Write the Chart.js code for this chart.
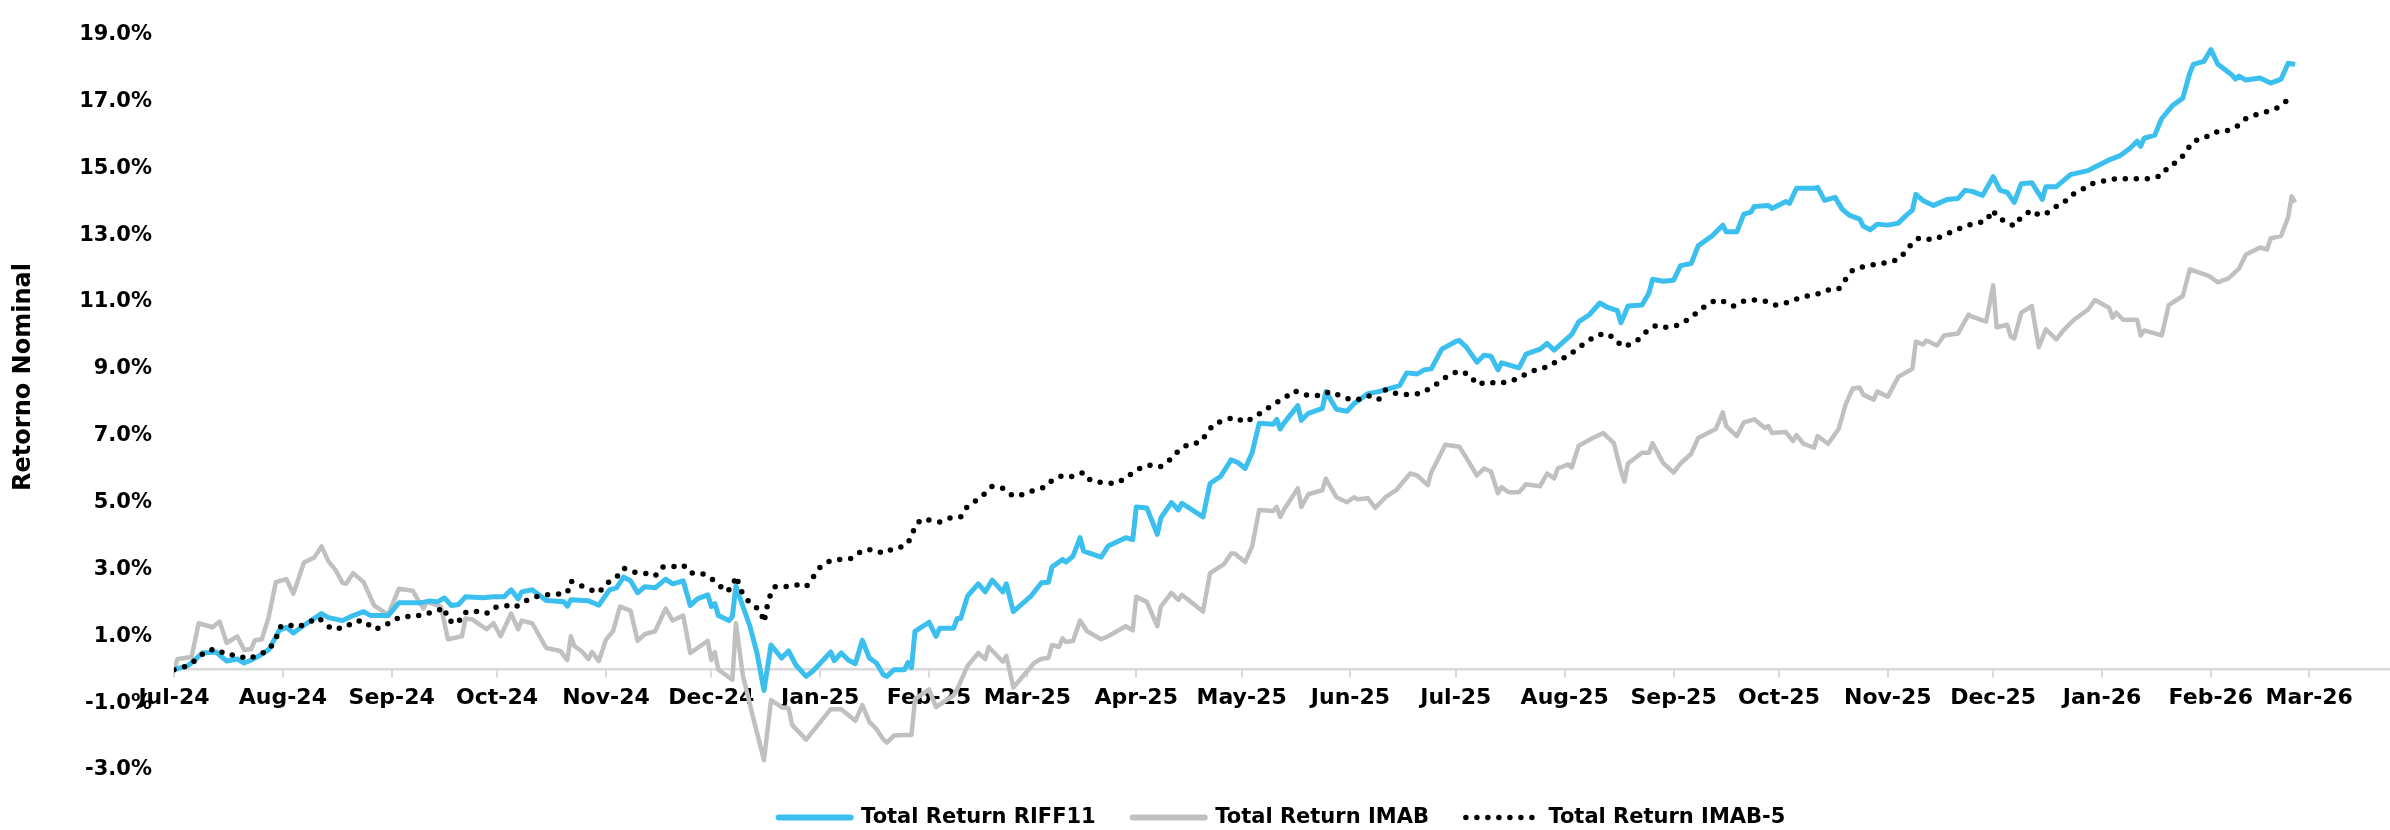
<!DOCTYPE html>
<html>
<head>
<meta charset="utf-8">
<title>Retorno Nominal</title>
<script src="https://cdn.jsdelivr.net/npm/chart.js@4.4.1/dist/chart.umd.min.js"></script>
<style>
  html, body { margin: 0; padding: 0; background: #fff; }
  #wrap { width: 2390px; height: 830px; position: relative; }
</style>
</head>
<body>
<div id="wrap"><canvas id="chart"></canvas></div>
<script>
// days counted from 01-Jul-2024
var monthDays = [0, 31, 62, 92, 123, 153, 184, 215, 243, 274, 304, 335, 365, 396, 427, 457, 488, 518, 549, 580, 608];
var monthLabels = ['Jul-24', 'Aug-24', 'Sep-24', 'Oct-24', 'Nov-24', 'Dec-24', 'Jan-25', 'Feb-25', 'Mar-25', 'Apr-25',
  'May-25', 'Jun-25', 'Jul-25', 'Aug-25', 'Sep-25', 'Oct-25', 'Nov-25', 'Dec-25', 'Jan-26', 'Feb-26', 'Mar-26'];
var yTicks = [-3, -1, 1, 3, 5, 7, 9, 11, 13, 15, 17, 19];

var seriesNames = ['Total Return RIFF11', 'Total Return IMAB', 'Total Return IMAB-5'];

// [day, %]
var riff11 = [[0,0.0],[4,0.12],[6,0.3],[8,0.5],[12,0.53],[15,0.26],[18,0.32],[20,0.2],[22,0.29],[24,0.4],[27,0.6],[30,1.18],[32,1.27],[34,1.1],[37,1.33],[42,1.68],[44,1.56],[48,1.47],[51,1.62],[54,1.74],[56,1.62],[61,1.62],[64,2.0],[70,2.0],[73,2.06],[75,2.03],[77,2.15],[79,1.92],[81,1.95],[83,2.18],[88,2.15],[91,2.18],[94,2.18],[96,2.39],[98,2.12],[99,2.33],[102,2.39],[106,2.07],[111,2.03],[112,1.9],[113,2.09],[118,2.06],[121,1.93],[124,2.39],[126,2.45],[128,2.77],[130,2.66],[132,2.3],[134,2.48],[137,2.45],[140,2.71],[142,2.57],[145,2.66],[147,1.92],[149,2.12],[152,2.24],[153,1.89],[154,1.98],[155,1.62],[158,1.47],[159,1.59],[160,2.5],[162,1.89],[164,1.3],[166,0.5],[168,-0.62],[170,0.74],[173,0.35],[175,0.56],[177,0.15],[180,-0.2],[182,-0.03],[187,0.53],[188,0.27],[190,0.5],[192,0.29],[194,0.18],[196,0.88],[198,0.35],[200,0.2],[202,-0.15],[203,-0.2],[205,0.0],[208,0.0],[209,0.21],[210,0.06],[211,1.15],[215,1.42],[217,1.0],[218,1.24],[222,1.24],[223,1.53],[224,1.53],[226,2.21],[229,2.57],[231,2.33],[233,2.68],[236,2.33],[237,2.57],[239,1.74],[244,2.2],[247,2.6],[249,2.62],[250,3.07],[253,3.3],[254,3.22],[256,3.4],[258,3.95],[259,3.55],[264,3.37],[266,3.7],[271,3.95],[273,3.89],[274,4.87],[277,4.84],[280,4.05],[281,4.54],[284,5.0],[286,4.78],[287,4.98],[293,4.57],[295,5.57],[298,5.78],[301,6.28],[303,6.19],[305,6.02],[307,6.49],[309,7.37],[313,7.34],[314,7.49],[315,7.2],[316,7.37],[320,7.9],[321,7.46],[323,7.67],[327,7.82],[328,8.32],[329,8.14],[331,7.79],[334,7.73],[336,7.96],[340,8.26],[343,8.32],[347,8.44],[349,8.5],[351,8.88],[354,8.85],[356,8.97],[358,9.0],[361,9.59],[365,9.82],[366,9.85],[368,9.65],[371,9.2],[373,9.41],[375,9.38],[377,8.97],[378,9.18],[383,9.03],[385,9.44],[389,9.59],[391,9.76],[393,9.56],[398,10.03],[400,10.41],[403,10.62],[406,10.97],[408,10.85],[411,10.74],[412,10.38],[413,10.62],[414,10.88],[418,10.91],[420,11.27],[421,11.68],[424,11.62],[427,11.65],[429,12.09],[432,12.15],[434,12.68],[438,12.98],[441,13.3],[442,13.1],[445,13.1],[447,13.63],[449,13.69],[450,13.86],[454,13.89],[455,13.8],[459,14.01],[460,13.95],[462,14.4],[467,14.4],[468,14.43],[470,14.04],[473,14.13],[475,13.78],[477,13.6],[480,13.48],[481,13.27],[483,13.16],[485,13.33],[488,13.3],[491,13.36],[493,13.57],[495,13.75],[496,14.22],[498,14.04],[501,13.89],[505,14.07],[508,14.1],[510,14.34],[512,14.31],[515,14.19],[518,14.75],[520,14.34],[522,14.28],[524,13.98],[526,14.54],[529,14.57],[532,14.07],[533,14.45],[536,14.45],[540,14.81],[545,14.93],[547,15.04],[551,15.25],[554,15.37],[557,15.6],[559,15.81],[560,15.66],[561,15.9],[564,15.99],[566,16.49],[569,16.87],[572,17.1],[574,17.85],[575,18.11],[578,18.2],[580,18.55],[582,18.11],[586,17.79],[587,17.67],[588,17.76],[590,17.64],[594,17.7],[597,17.55],[600,17.67],[602,18.14],[604,18.11]];

var imab = [[0,0.0],[1,0.32],[5,0.38],[7,1.39],[11,1.27],[13,1.44],[15,0.8],[18,1.0],[20,0.59],[22,0.62],[23,0.88],[25,0.91],[27,1.59],[29,2.62],[32,2.71],[34,2.27],[37,3.21],[40,3.36],[42,3.69],[44,3.24],[46,2.98],[48,2.6],[49,2.57],[51,2.89],[54,2.62],[57,1.92],[61,1.65],[64,2.42],[68,2.36],[69,2.18],[71,1.83],[72,2.03],[76,1.89],[78,0.91],[82,1.0],[83,1.53],[85,1.5],[89,1.21],[91,1.39],[93,1.0],[96,1.68],[98,1.21],[99,1.47],[102,1.39],[106,0.65],[110,0.56],[112,0.29],[113,1.0],[114,0.71],[116,0.56],[118,0.32],[119,0.53],[121,0.26],[123,0.9],[125,1.15],[127,1.89],[130,1.77],[132,0.86],[134,1.06],[137,1.15],[140,1.83],[142,1.47],[145,1.62],[147,0.5],[152,0.86],[153,0.29],[154,0.53],[155,0.0],[159,-0.3],[160,1.39],[162,-0.18],[165,-1.47],[168,-2.71],[170,-0.91],[173,-1.12],[175,-1.15],[176,-1.65],[180,-2.09],[187,-1.18],[190,-1.18],[194,-1.53],[196,-1.06],[198,-1.56],[200,-1.77],[202,-2.09],[203,-2.18],[205,-1.97],[208,-1.95],[210,-1.95],[211,-0.88],[215,-0.59],[217,-1.12],[222,-0.77],[223,-0.59],[226,0.12],[229,0.5],[231,0.32],[232,0.68],[236,0.24],[237,0.41],[239,-0.53],[245,0.21],[247,0.33],[249,0.35],[250,0.74],[252,0.68],[253,0.94],[254,0.83],[256,0.86],[258,1.47],[260,1.15],[264,0.91],[266,1.0],[271,1.3],[273,1.18],[274,2.18],[277,2.03],[280,1.3],[281,1.89],[284,2.3],[286,2.09],[287,2.24],[293,1.74],[295,2.89],[299,3.16],[301,3.48],[302,3.48],[305,3.22],[307,3.69],[309,4.78],[313,4.75],[314,4.87],[315,4.57],[316,4.78],[320,5.43],[321,4.87],[323,5.25],[327,5.37],[328,5.72],[329,5.52],[331,5.16],[334,5.01],[336,5.16],[337,5.1],[340,5.13],[342,4.84],[345,5.16],[348,5.37],[352,5.87],[354,5.81],[357,5.52],[358,5.9],[362,6.73],[366,6.67],[368,6.34],[371,5.81],[373,6.02],[375,5.93],[377,5.28],[378,5.46],[380,5.31],[383,5.31],[385,5.55],[389,5.49],[391,5.87],[393,5.72],[394,6.02],[397,6.14],[398,6.05],[400,6.7],[404,6.93],[407,7.08],[410,6.78],[412,5.96],[413,5.63],[414,6.17],[418,6.49],[420,6.49],[421,6.78],[424,6.19],[427,5.9],[429,6.17],[432,6.46],[434,6.93],[439,7.2],[441,7.7],[442,7.29],[445,6.99],[447,7.4],[450,7.49],[453,7.23],[454,7.29],[455,7.08],[459,7.11],[461,6.84],[462,7.02],[464,6.76],[467,6.64],[468,6.99],[471,6.76],[474,7.2],[476,7.94],[478,8.41],[480,8.44],[481,8.23],[484,8.08],[485,8.32],[488,8.17],[491,8.76],[495,9.0],[496,9.82],[498,9.73],[499,9.85],[502,9.7],[504,10.0],[508,10.06],[511,10.62],[512,10.56],[516,10.41],[518,11.5],[519,10.24],[522,10.32],[523,9.97],[524,9.91],[526,10.68],[529,10.88],[531,9.65],[533,10.18],[536,9.88],[538,10.15],[541,10.47],[545,10.77],[547,11.06],[551,10.83],[552,10.53],[553,10.68],[555,10.47],[559,10.47],[560,10.0],[561,10.15],[566,10.0],[568,10.91],[572,11.18],[574,11.98],[579,11.8],[580,11.74],[582,11.59],[585,11.71],[588,12.0],[590,12.42],[594,12.63],[596,12.57],[597,12.9],[600,12.98],[602,13.54],[603,14.16],[604,13.98]];

var imab5 = [[0,0.0],[4,0.12],[7,0.35],[9,0.56],[12,0.62],[15,0.44],[18,0.44],[21,0.32],[24,0.44],[27,0.59],[29,0.91],[30,1.27],[32,1.36],[35,1.27],[38,1.39],[41,1.56],[43,1.39],[45,1.21],[49,1.27],[51,1.44],[54,1.47],[57,1.21],[60,1.3],[62,1.47],[65,1.59],[69,1.59],[71,1.68],[74,1.71],[77,1.86],[78,1.47],[81,1.39],[82,1.68],[85,1.77],[89,1.68],[91,1.86],[95,1.92],[97,1.86],[99,2.0],[102,2.15],[105,2.24],[108,2.24],[112,2.3],[113,2.65],[116,2.51],[118,2.42],[121,2.3],[123,2.57],[126,2.77],[128,3.04],[131,2.92],[134,2.89],[137,2.8],[139,3.07],[141,3.07],[145,3.13],[147,2.89],[150,2.89],[152,2.8],[155,2.57],[157,2.33],[159,2.45],[160,2.8],[162,2.24],[164,2.0],[167,1.77],[168,1.42],[169,1.95],[170,2.3],[171,2.48],[174,2.48],[177,2.54],[180,2.48],[182,2.77],[184,3.07],[187,3.27],[190,3.3],[193,3.33],[196,3.57],[199,3.6],[202,3.48],[205,3.63],[208,3.69],[210,3.95],[211,4.31],[213,4.51],[215,4.48],[218,4.42],[221,4.54],[224,4.57],[226,4.9],[229,5.1],[231,5.28],[233,5.49],[236,5.43],[239,5.19],[242,5.25],[245,5.37],[248,5.46],[250,5.66],[253,5.81],[256,5.78],[259,5.9],[261,5.66],[264,5.6],[268,5.57],[271,5.72],[273,5.9],[276,6.08],[279,6.14],[281,6.08],[284,6.31],[286,6.55],[289,6.76],[292,6.79],[294,7.05],[296,7.35],[299,7.46],[302,7.55],[305,7.4],[308,7.58],[311,7.79],[313,7.94],[316,8.11],[319,8.35],[321,8.26],[323,8.2],[327,8.2],[329,8.32],[332,8.2],[335,8.08],[337,8.08],[340,8.2],[343,8.08],[345,8.38],[348,8.26],[351,8.23],[355,8.26],[357,8.38],[360,8.58],[363,8.82],[366,8.94],[369,8.82],[371,8.53],[374,8.61],[377,8.56],[381,8.64],[384,8.79],[387,8.94],[390,9.03],[392,9.09],[394,9.26],[397,9.38],[399,9.56],[402,9.79],[405,10.0],[408,10.06],[411,9.85],[412,9.68],[414,9.71],[417,9.88],[419,10.09],[422,10.3],[425,10.24],[428,10.3],[431,10.47],[434,10.71],[436,10.88],[439,11.06],[441,11.03],[444,10.88],[447,11.03],[450,11.06],[453,11.03],[456,10.91],[459,10.97],[462,11.09],[465,11.18],[468,11.24],[471,11.36],[474,11.39],[476,11.68],[478,11.95],[481,12.06],[484,12.12],[488,12.18],[491,12.27],[493,12.5],[495,12.77],[497,12.92],[501,12.86],[504,13.0],[507,13.13],[510,13.27],[513,13.36],[516,13.42],[518,13.75],[519,13.54],[522,13.39],[524,13.27],[526,13.54],[529,13.75],[531,13.6],[533,13.63],[535,13.81],[538,13.95],[540,14.19],[543,14.34],[546,14.54],[550,14.63],[553,14.69],[556,14.69],[559,14.69],[562,14.69],[566,14.78],[568,15.07],[571,15.22],[573,15.52],[575,15.81],[578,15.9],[581,16.08],[584,16.1],[587,16.22],[590,16.49],[593,16.61],[596,16.7],[599,16.81],[602,17.05]];

function toPoints(arr) {
  return arr.map(function (p) { return {x: p[0], y: p[1]}; });
}

var FONT = '"DejaVu Sans", sans-serif';

// y axis title drawn vertically at the far left
var yTitlePlugin = {
  id: 'yTitle',
  afterDraw: function (chart) {
    var ctx = chart.ctx;
    ctx.save();
    ctx.translate(24, 377);
    ctx.rotate(-Math.PI / 2);
    ctx.font = 'bold 24px ' + FONT;
    ctx.fillStyle = '#000';
    ctx.textAlign = 'center';
    ctx.textBaseline = 'middle';
    ctx.fillText('Retorno Nominal', 0, 0);
    ctx.restore();
  }
};

var ctx = document.getElementById('chart');
new Chart(ctx, {
  type: 'line',
  data: {
    datasets: [
      {
        label: seriesNames[0],
        data: toPoints(riff11),
        borderColor: '#3BBFEF',
        borderWidth: 5,
        order: 1
      },
      {
        label: seriesNames[1],
        data: toPoints(imab),
        borderColor: '#C0C0C0',
        borderWidth: 4.5,
        order: 2
      },
      {
        label: seriesNames[2],
        data: toPoints(imab5),
        borderColor: '#000000',
        borderWidth: 5.5,
        borderDash: [0, 11],
        borderCapStyle: 'round',
        order: 0
      }
    ]
  },
  options: {
    responsive: true,
    maintainAspectRatio: false,
    animation: false,
    layout: { padding: { left: 0, right: 0, top: 24, bottom: -8 } },
    elements: {
      point: { radius: 0, hoverRadius: 0 },
      line: { tension: 0, borderJoinStyle: 'round' }
    },
    scales: {
      x: {
        type: 'linear',
        position: { y: 0 },
        min: 0,
        max: 631,
        afterBuildTicks: function (scale) {
          scale.ticks = monthDays.map(function (d) { return {value: d}; });
        },
        ticks: {
          autoSkip: false,
          maxRotation: 0,
          padding: 8,
          color: '#000',
          font: { family: FONT, size: 22, weight: 'bold' },
          callback: function (value) {
            var i = monthDays.indexOf(value);
            return i >= 0 ? monthLabels[i] : '';
          }
        },
        grid: { display: true, drawOnChartArea: false, drawTicks: true, tickLength: 7, color: '#D9D9D9', lineWidth: 2 },
        border: { display: true, color: '#D9D9D9', width: 2.5 }
      },
      y: {
        min: -3,
        max: 19,
        afterFit: function (scale) { scale.width = 174; },
        afterBuildTicks: function (scale) {
          scale.ticks = yTicks.map(function (v) { return {value: v}; });
        },
        ticks: {
          padding: 22,
          color: '#000',
          font: { family: FONT, size: 21, weight: 'bold' },
          callback: function (value) { return value.toFixed(1) + '%'; }
        },
        grid: { display: false, drawTicks: false },
        border: { display: false }
      }
    },
    plugins: {
      tooltip: { enabled: false },
      legend: {
        position: 'bottom',
        fullSize: false,
        labels: {
          usePointStyle: true,
          pointStyleWidth: 72,
          padding: 37,
          color: '#000',
          font: { family: FONT, size: 21, weight: 'bold' },
          generateLabels: function (chart) {
            return chart.data.datasets.map(function (ds, i) {
              return {
                text: ds.label,
                datasetIndex: i,
                pointStyle: 'line',
                strokeStyle: ds.borderColor,
                fillStyle: ds.borderColor,
                lineWidth: ds.borderDash ? 5.5 : 6,
                lineDash: ds.borderDash || [],
                lineCap: ds.borderCapStyle || 'round',
                hidden: false,
                fontColor: '#000'
              };
            });
          }
        }
      }
    }
  },
  plugins: [yTitlePlugin]
});
</script>
</body>
</html>
